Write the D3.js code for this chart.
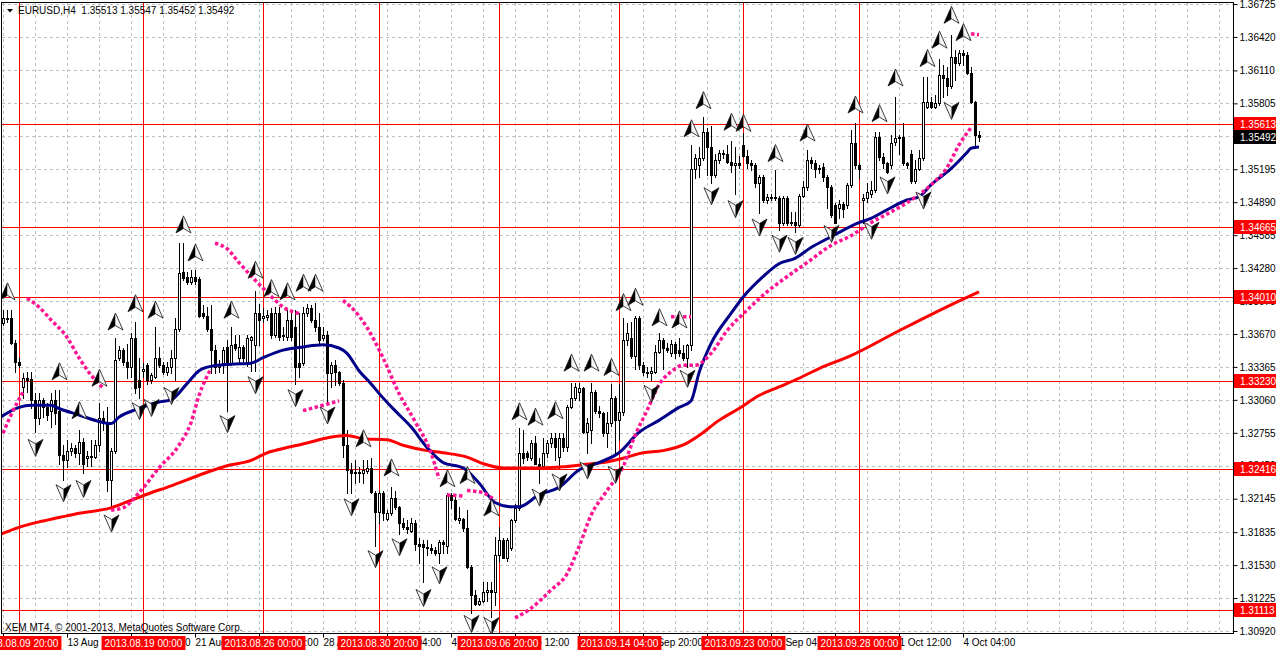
<!DOCTYPE html>
<html>
<head>
<meta charset="utf-8">
<script src="https://cdn.jsdelivr.net/npm/d3@7"></script>
<style>
html, body { margin: 0; padding: 0; background: #fff; }
svg { display: block; font-family: "Liberation Sans", Arial, sans-serif; font-size: 10px; }
</style>
</head>
<body>
<svg id="chart" width="1276" height="652"></svg>
<script>
// EURUSD H4, one value per bar (bar 0 = 2013.08.09 04:00)
const barOpen = [
 1.3377,1.3382,1.3382,1.3359,1.3341,1.3318,1.3326,1.3325,1.3306,1.3289,
 1.3306,1.3299,1.3296,1.3306,1.3296,1.3255,1.3250,1.3259,1.3261,1.3257,
 1.3267,1.3252,1.3254,1.3253,1.3264,1.3289,1.3285,1.3232,1.3259,1.3345,
 1.3352,1.3341,1.3336,1.3363,1.3324,1.3333,1.3338,1.3324,1.3327,1.3345,
 1.3338,1.3332,1.3336,1.3345,1.3372,1.3424,1.3420,1.3415,1.3420,1.3418,
 1.3386,1.3384,1.3372,1.3352,1.3336,1.3340,1.3355,1.3340,1.3358,1.3345,
 1.3355,1.3341,1.3361,1.3357,1.3386,1.3382,1.3383,1.3386,1.3366,1.3386,
 1.3365,1.3364,1.3380,1.3373,1.3340,1.3340,1.3386,1.3391,1.3380,1.3373,
 1.3363,1.3366,1.3331,1.3338,1.3332,1.3322,1.3264,1.3241,1.3238,1.3239,
 1.3238,1.3240,1.3243,1.3220,1.3202,1.3220,1.3196,1.3201,1.3215,1.3207,
 1.3192,1.3188,1.3185,1.3192,1.3173,1.3173,1.3170,1.3169,1.3167,1.3164,
 1.3174,1.3171,1.3218,1.3213,1.3195,1.3196,1.3187,1.3151,1.3125,1.3117,
 1.3120,1.3128,1.3130,1.3128,1.3162,1.3176,1.3160,1.3169,1.3195,1.3206,
 1.3257,1.3257,1.3252,1.3266,1.3247,1.3245,1.3257,1.3266,1.3271,1.3253,
 1.3271,1.3262,1.3299,1.3308,1.3313,1.3317,1.3276,1.3278,1.3313,1.3296,
 1.3294,1.3275,1.3285,1.3308,1.3287,1.3295,1.3361,1.3363,1.3347,1.3382,
 1.3338,1.3332,1.3331,1.3332,1.3350,1.3361,1.3354,1.3349,1.3358,1.3352,
 1.3349,1.3345,1.3357,1.3520,1.3523,1.3530,1.3554,1.3540,1.3514,1.3528,
 1.3535,1.3534,1.3526,1.3523,1.3525,1.3542,1.3532,1.3525,1.3523,1.3507,
 1.3512,1.3491,1.3494,1.3493,1.3493,1.3470,1.3493,1.3470,1.3471,1.3468,
 1.3495,1.3503,1.3528,1.3525,1.3520,1.3522,1.3512,1.3503,1.3486,1.3484,
 1.3487,1.3486,1.3505,1.3544,1.3523,1.3491,1.3493,1.3497,1.3500,1.3549,
 1.3531,1.3525,1.3523,1.3545,1.3548,1.3549,1.3525,1.3534,1.3509,1.3520,
 1.3530,1.3577,1.3582,1.3577,1.3581,1.3607,1.3604,1.3597,1.3623,1.3618,
 1.3627,1.3625,1.3609,1.3582,1.35513
];
const barHigh = [
 1.3389,1.3389,1.3389,1.3361,1.3345,1.3331,1.3332,1.3332,1.3312,1.3312,
 1.3308,1.3303,1.3312,1.3315,1.3315,1.3264,1.3269,1.3266,1.3264,1.3278,
 1.3271,1.3259,1.3269,1.3269,1.3303,1.3296,1.3299,1.3261,1.3363,1.3356,
 1.3354,1.3358,1.3368,1.3378,1.3345,1.3340,1.3340,1.3331,1.3373,1.3355,
 1.3341,1.3341,1.3352,1.3382,1.3451,1.3451,1.3424,1.3426,1.3426,1.3420,
 1.3394,1.3392,1.3394,1.3357,1.3343,1.3355,1.3361,1.3373,1.3366,1.3366,
 1.3357,1.3366,1.3365,1.3407,1.3395,1.3391,1.3389,1.3391,1.3392,1.3392,
 1.3373,1.3389,1.3386,1.3389,1.3386,1.3392,1.3395,1.3394,1.3396,1.3386,
 1.3373,1.3370,1.3341,1.3343,1.3333,1.3324,1.3278,1.3248,1.3250,1.3244,
 1.3250,1.3250,1.3252,1.3222,1.3222,1.3222,1.3204,1.3225,1.3222,1.3208,
 1.3197,1.3195,1.3197,1.3195,1.3178,1.3176,1.3176,1.3173,1.3170,1.3176,
 1.3176,1.3220,1.3220,1.3216,1.3207,1.3197,1.3204,1.3153,1.3130,1.3123,
 1.3137,1.3137,1.3137,1.3179,1.3188,1.3178,1.3178,1.3196,1.3210,1.3280,
 1.3278,1.3259,1.3269,1.3273,1.3252,1.3271,1.3269,1.3275,1.3275,1.3275,
 1.3275,1.3301,1.3322,1.3322,1.3322,1.3318,1.3289,1.3322,1.3315,1.3300,
 1.3295,1.3295,1.3321,1.3310,1.3321,1.3382,1.3377,1.3378,1.3384,1.3384,
 1.3341,1.3336,1.3336,1.3357,1.3368,1.3363,1.3359,1.3361,1.3360,1.3363,
 1.3357,1.3358,1.3542,1.3534,1.3540,1.3568,1.3558,1.3560,1.3534,1.3537,
 1.3537,1.3542,1.3546,1.3540,1.3532,1.3553,1.3537,1.3528,1.3525,1.3514,
 1.3514,1.3497,1.3497,1.3519,1.3495,1.3495,1.3495,1.3480,1.3480,1.3497,
 1.3509,1.3537,1.3531,1.3528,1.3523,1.3525,1.3514,1.3505,1.3488,1.3491,
 1.3489,1.3507,1.3556,1.3562,1.3525,1.3497,1.3507,1.3509,1.3554,1.3554,
 1.3535,1.3526,1.3551,1.3586,1.3551,1.3562,1.3526,1.3537,1.3528,1.3537,
 1.3605,1.3605,1.3586,1.3588,1.3622,1.3616,1.3614,1.3644,1.3630,1.3630,
 1.3630,1.3628,1.3614,1.3583,1.35547
];
const barLow = [
 1.3375,1.3378,1.3358,1.3332,1.3336,1.3308,1.3313,1.3298,1.3276,1.3284,
 1.3290,1.3287,1.3281,1.3284,1.3247,1.3232,1.3244,1.3255,1.3253,1.3247,
 1.3238,1.3245,1.3245,1.3252,1.3259,1.3278,1.3222,1.3207,1.3257,1.3343,
 1.3338,1.3326,1.3327,1.3312,1.3308,1.3327,1.3321,1.3322,1.3326,1.3336,
 1.3330,1.3329,1.3331,1.3324,1.3370,1.3417,1.3413,1.3413,1.3413,1.3383,
 1.3382,1.3370,1.3331,1.3331,1.3332,1.3331,1.3296,1.3338,1.3352,1.3341,
 1.3341,1.3337,1.3333,1.3333,1.3357,1.3378,1.3380,1.3363,1.3364,1.3361,
 1.3361,1.3361,1.3361,1.3321,1.3327,1.3338,1.3384,1.3378,1.3370,1.3359,
 1.3361,1.3304,1.3318,1.3320,1.3320,1.3253,1.3220,1.3220,1.3229,1.3230,
 1.3229,1.3238,1.3220,1.3171,1.3192,1.3195,1.3195,1.3199,1.3205,1.3182,
 1.3186,1.3183,1.3184,1.3167,1.3155,1.3137,1.3162,1.3164,1.3162,1.3155,
 1.3164,1.3164,1.3206,1.3195,1.3192,1.3185,1.3150,1.3109,1.3116,1.3116,
 1.3119,1.3120,1.3105,1.3116,1.3157,1.3160,1.3157,1.3167,1.3193,1.3204,
 1.3248,1.3250,1.3250,1.3247,1.3229,1.3244,1.3253,1.3262,1.3250,1.3243,
 1.3259,1.3259,1.3298,1.3306,1.3306,1.3275,1.3257,1.3266,1.3294,1.3290,
 1.3273,1.3262,1.3282,1.3257,1.3269,1.3292,1.3357,1.3345,1.3335,1.3335,
 1.3329,1.3327,1.3324,1.3331,1.3349,1.3335,1.3350,1.3347,1.3345,1.3347,
 1.3343,1.3336,1.3352,1.3511,1.3512,1.3528,1.3514,1.3507,1.3512,1.3525,
 1.3530,1.3525,1.3517,1.3497,1.3521,1.3531,1.3521,1.3519,1.3503,1.3479,
 1.3489,1.3488,1.3491,1.3491,1.3463,1.3468,1.3468,1.3468,1.3461,1.3466,
 1.3494,1.3500,1.3521,1.3512,1.3516,1.3509,1.3484,1.3475,1.3470,1.3474,
 1.3475,1.3484,1.3503,1.3521,1.3511,1.3470,1.3489,1.3494,1.3498,1.3528,
 1.3521,1.3516,1.3521,1.3542,1.3534,1.3523,1.3521,1.3507,1.3507,1.3519,
 1.3528,1.3576,1.3576,1.3576,1.3579,1.3586,1.3588,1.3595,1.3602,1.3616,
 1.3616,1.3608,1.3581,1.3539,1.35452
];
const barClose = [
 1.3382,1.3381,1.3359,1.3341,1.3338,1.3326,1.3324,1.3306,1.3289,1.3306,
 1.3299,1.3292,1.3306,1.3294,1.3255,1.3250,1.3259,1.3261,1.3257,1.3267,
 1.3247,1.3254,1.3253,1.3264,1.3289,1.3285,1.3232,1.3259,1.3343,1.3352,
 1.3341,1.3336,1.3363,1.3317,1.3318,1.3335,1.3324,1.3329,1.3345,1.3338,
 1.3332,1.3336,1.3345,1.3372,1.3423,1.3419,1.3415,1.3420,1.3416,1.3384,
 1.3384,1.3372,1.3352,1.3336,1.3339,1.3352,1.3338,1.3357,1.3354,1.3355,
 1.3345,1.3363,1.3364,1.3386,1.3380,1.3384,1.3385,1.3366,1.3386,1.3364,
 1.3366,1.3380,1.3364,1.3336,1.3336,1.3386,1.3391,1.3380,1.3373,1.3361,
 1.3366,1.3331,1.3338,1.3332,1.3322,1.3264,1.3241,1.3238,1.3239,1.3238,
 1.3241,1.3243,1.3221,1.3202,1.3220,1.3201,1.3201,1.3215,1.3207,1.3192,
 1.3188,1.3186,1.3192,1.3173,1.3171,1.3170,1.3169,1.3167,1.3164,1.3174,
 1.3173,1.3218,1.3213,1.3196,1.3197,1.3187,1.3151,1.3125,1.3117,1.3120,
 1.3128,1.3130,1.3128,1.3162,1.3176,1.3160,1.3176,1.3195,1.3206,1.3257,
 1.3252,1.3253,1.3266,1.3247,1.3244,1.3257,1.3266,1.3271,1.3262,1.3271,
 1.3262,1.3299,1.3308,1.3318,1.3317,1.3276,1.3285,1.3313,1.3296,1.3294,
 1.3275,1.3285,1.3308,1.3287,1.3295,1.3361,1.3368,1.3347,1.3382,1.3338,
 1.3332,1.3331,1.3333,1.3350,1.3361,1.3354,1.3352,1.3358,1.3349,1.3349,
 1.3345,1.3357,1.3520,1.3530,1.3530,1.3554,1.3540,1.3514,1.3528,1.3535,
 1.3534,1.3526,1.3523,1.3525,1.3523,1.3532,1.3525,1.3523,1.3507,1.3512,
 1.3491,1.3494,1.3493,1.3494,1.3470,1.3493,1.3470,1.3471,1.3468,1.3495,
 1.3503,1.3528,1.3525,1.3520,1.3521,1.3512,1.3503,1.3477,1.3470,1.3487,
 1.3483,1.3505,1.3544,1.3523,1.3520,1.3493,1.3498,1.3500,1.3549,1.3531,
 1.3525,1.3517,1.3544,1.3548,1.3549,1.3525,1.3523,1.3509,1.3520,1.3530,
 1.3582,1.3582,1.3577,1.3581,1.3607,1.3604,1.3597,1.3623,1.3618,1.3627,
 1.3625,1.3609,1.3582,1.3551,1.35492
];

// moving averages: bar index -> price
const blueMaBars = [-1,4,7,12,14,19,24,27,29,34,39,42,46,49,52,57,62,65,70,75,80,84,86,89,92,94,98,102,106,110,
  115,119,123,127,129,134,139,144,149,154,159,164,169,172,174,177,182,185,190,194,198,202,207,209,214,217,221,226,229,232,237,241,242,244];
const blueMaPrices = [1.3289,1.3299,1.3301,1.3301,1.3298,1.3292,1.3286,1.3284,1.3290,1.3298,1.3304,1.3306,1.3321,1.3333,1.3337,1.3339,1.3340,1.3345,1.3352,1.3355,
  1.3357,1.3354,1.3349,1.3333,1.3321,1.3312,1.3296,1.3281,1.3262,1.3248,1.3243,1.3229,1.3211,1.3207,1.3207,1.3218,1.3225,1.3241,1.3248,1.3257,
  1.3276,1.3287,1.3299,1.3305,1.3331,1.3358,1.3386,1.3401,1.3420,1.3432,1.3437,1.3447,1.3457,1.3461,1.3470,1.3474,1.3482,1.3491,1.3494,1.3505,
  1.3520,1.3535,1.3539,1.3540];
const redMaBars = [-1,4,9,14,19,27,32,37,41,46,51,56,62,66,70,76,80,86,90,96,100,106,110,116,120,125,130,135,140,145,
  150,155,160,165,171,174,179,184,189,194,199,204,212,224,237,244];
const redMaPrices = [1.3181,1.3188,1.3193,1.3197,1.3201,1.3206,1.3213,1.3220,1.3225,1.3232,1.3239,1.3245,1.3250,1.3257,1.3261,1.3266,1.3270,1.3273,1.3270,1.3269,
  1.3264,1.3259,1.3257,1.3253,1.3247,1.3243,1.3243,1.3243,1.3244,1.3246,1.3248,1.3252,1.3257,1.3259,1.3266,1.3273,1.3287,1.3298,1.3310,1.3318,
  1.3326,1.3335,1.3347,1.3370,1.3394,1.3406];

// dotted pink trailing indicator, segment by segment: [bar, price]
const sarSegments = [
  [[0,1.3275],[2,1.3292],[5,1.3313]],
  [[6,1.3400],[9,1.3392],[12,1.3380],[16,1.3364],[19,1.3345],[22,1.3329],[25,1.3317]],
  [[27,1.3204],[30,1.3206],[34,1.3220],[39,1.3243],[44,1.3264],[47,1.3285],[49,1.3310],[52,1.3335]],
  [[53,1.3451],[56,1.3446],[59,1.3433],[63,1.3417],[67,1.3402],[70,1.3392],[74,1.3386]],
  [[75,1.3296],[79,1.3300],[84,1.3305]],
  [[85,1.3398],[87,1.3392],[91,1.3373],[95,1.3345],[99,1.3312],[103,1.3286],[107,1.3257],[109,1.3233]],
  [[111,1.3218],[115,1.3217]],
  [[116,1.3222],[120,1.3220],[123,1.3213]],
  [[128,1.3104],[132,1.3113],[137,1.3130],[141,1.3145],[144,1.3170],[147,1.3199],[151,1.3222],[155,1.3244],[158,1.3273],[161,1.3296],
   [164,1.3320],[167,1.3332],[170,1.3338],[173,1.3338],[177,1.3349],[181,1.3370],[186,1.3389],[191,1.3406],[196,1.3420],[201,1.3433],
   [207,1.3449],[212,1.3458],[217,1.3470],[222,1.3480],[227,1.3491],[232,1.3505],[236,1.3521],[239,1.3542],[242,1.3558]],
  [[167,1.3383],[172,1.3383]],
  [[242,1.3645],[244,1.3644]]
];

// fractal arrows
const upFractalBar = [1,14,19,24,28,33,38,45,48,57,63,67,71,75,78,90,97,111,116,122,129,133,138,142,147,152,155,158,164,169,
  172,175,182,185,193,201,213,219,223,231,234,237,240];
const upFractalPrice = [1.3406,1.3332,1.3296,1.3326,1.3378,1.3395,1.3389,1.3468,1.3442,1.3389,1.3426,1.3409,1.3406,1.3414,1.3414,1.3270,1.3243,1.3233,1.3236,1.3206,
  1.3295,1.3290,1.3296,1.3340,1.3340,1.3336,1.3396,1.3401,1.3382,1.3380,1.3557,1.3583,1.3563,1.3562,1.3534,1.3553,1.3579,1.3571,1.3604,1.3622,
  1.3639,1.3662,1.3646];
const downFractalBar = [8,15,20,27,34,37,42,56,63,73,81,87,93,99,105,109,117,122,134,139,146,153,162,171,177,183,189,194,198,207,217,221,230,237];
const downFractalPrice = [1.3262,1.3220,1.3224,1.3192,1.3296,1.3299,1.3310,1.3284,1.3320,1.3308,1.3292,1.3207,1.3159,1.3170,1.3123,1.3144,1.3099,1.3097,1.3216,1.3230,
  1.3241,1.3237,1.3312,1.3326,1.3495,1.3483,1.3466,1.3451,1.3449,1.3460,1.3463,1.3505,1.3491,1.3574];

// horizontal levels and vertical date markers
const levelPrices = [1.35613, 1.34665, 1.34010, 1.33230, 1.32416, 1.31113];
const markerBars = [4, 35, 65, 94, 124, 154, 185, 214];
const markerLabels = ["2013.08.09 20:00","2013.08.19 00:00","2013.08.26 00:00","2013.08.30 20:00",
  "2013.09.06 20:00","2013.09.14 04:00","2013.09.23 00:00","2013.09.28 00:00"];

// axes
const priceTicks = [1.36725,1.36420,1.36110,1.35805,1.35500,1.35195,1.34890,1.34585,1.34280,1.33975,
  1.33670,1.33365,1.33060,1.32755,1.32450,1.32145,1.31835,1.31530,1.31225,1.30920];
const timeTickBars = [0,16,32,48,64,80,96,112,128,144,160,176,192,208,224,240];
const timeTickLabels = ["","13 Aug 20:00","16 Aug 12:00","21 Aug 04:00","23 Aug 20:00","28 Aug 12:00","2 Sep 04:00","4 Sep 20:00",
  "9 Sep 12:00","12 Sep 04:00","16 Sep 20:00","19 Sep 12:00","24 Sep 04:00","26 Sep 20:00","1 Oct 12:00","4 Oct 04:00"];

const FONT = '"Liberation Sans", Arial, sans-serif';
const svg = d3.select('#chart');
const plotRight = 1233, plotBottom = 633;

const x = d3.scaleLinear().domain([0, 244]).range([3, 979]);
const y = d3.scaleLinear().domain([1.30920, 1.36725]).range([631, 4]);
const crisp = v => Math.round(v) + 0.5;
const fmt = d3.format('.5f');

svg.append('defs').append('clipPath').attr('id', 'plotClip')
    .append('rect').attr('x', 2).attr('y', 3).attr('width', plotRight - 2).attr('height', plotBottom - 3);

const plotG = svg.append('g').attr('clip-path', 'url(#plotClip)');

// dashed grid
const grid = plotG.append('g')
    .attr('stroke', '#c0c0c0').attr('stroke-dasharray', '3,3').attr('shape-rendering', 'crispEdges');
grid.selectAll('line.h').data(priceTicks).join('line').attr('class', 'h')
    .attr('x1', 2).attr('x2', plotRight)
    .attr('y1', d => crisp(y(d))).attr('y2', d => crisp(y(d)));
grid.selectAll('line.v').data(d3.range(0, 308, 8)).join('line').attr('class', 'v')
    .attr('x1', d => x(d) + 0.5).attr('x2', d => x(d) + 0.5)
    .attr('y1', 3).attr('y2', plotBottom);

// red level / marker lines
const redLines = plotG.append('g').attr('stroke', '#ff0000').attr('shape-rendering', 'crispEdges');
redLines.selectAll('line.h').data(levelPrices).join('line').attr('class', 'h')
    .attr('x1', 2).attr('x2', plotRight)
    .attr('y1', d => crisp(y(d))).attr('y2', d => crisp(y(d)));
redLines.selectAll('line.v').data(markerBars).join('line').attr('class', 'v')
    .attr('x1', d => x(d) + 0.5).attr('x2', d => x(d) + 0.5)
    .attr('y1', 3).attr('y2', plotBottom);

// candles
const bars = d3.range(barClose.length).map(i => ({
    i, o: barOpen[i], h: barHigh[i], l: barLow[i], c: barClose[i]
}));
const candleG = plotG.append('g').attr('shape-rendering', 'crispEdges');
const candle = candleG.selectAll('g').data(bars).join('g');
candle.append('line')
    .attr('x1', d => x(d.i) + 0.5).attr('x2', d => x(d.i) + 0.5)
    .attr('y1', d => Math.round(y(d.h))).attr('y2', d => Math.round(y(d.l)) + 1)
    .attr('stroke', '#000');
candle.each(function(d) {
    const g = d3.select(this);
    const top = Math.round(y(Math.max(d.o, d.c)));
    const bot = Math.round(y(Math.min(d.o, d.c)));
    const up = d.c >= d.o;
    if (bot - top < 1) {
        g.append('line')
            .attr('x1', x(d.i) - 1).attr('x2', x(d.i) + 2)
            .attr('y1', top + 0.5).attr('y2', top + 0.5)
            .attr('stroke', '#000');
    } else {
        g.append('rect')
            .attr('x', x(d.i) - 0.5).attr('y', top + 0.5)
            .attr('width', 2).attr('height', bot - top)
            .attr('fill', up ? '#fff' : '#000')
            .attr('stroke', '#000');
    }
});

// moving averages
const maLine = d3.line().x(d => x(d[0])).y(d => y(d[1])).curve(d3.curveMonotoneX);
plotG.append('path')
    .attr('d', maLine(d3.zip(redMaBars, redMaPrices)))
    .attr('fill', 'none').attr('stroke', '#ff0000').attr('stroke-width', 3);
plotG.append('path')
    .attr('d', maLine(d3.zip(blueMaBars, blueMaPrices)))
    .attr('fill', 'none').attr('stroke', '#000088').attr('stroke-width', 3);

// dotted pink
plotG.append('g').selectAll('path').data(sarSegments).join('path')
    .attr('d', d => maLine(d))
    .attr('fill', 'none').attr('stroke', '#ff1493').attr('stroke-width', 3.5)
    .attr('stroke-dasharray', '3.5,2.5');

// fractal arrows
const upG = plotG.append('g').selectAll('g').data(d3.zip(upFractalBar, upFractalPrice)).join('g')
    .attr('transform', d => `translate(${x(d[0]) + 0.5},${y(d[1])})`);
upG.append('path').attr('d', 'M0,-9L-7.5,8L0,3.5Z').attr('fill', '#000');
upG.append('path').attr('d', 'M0,-9L0,3.5L7.5,8Z').attr('fill', '#f4f4f4');
upG.append('path').attr('d', 'M0,-9L-7.5,8L0,3.5L7.5,8Z')
    .attr('fill', 'none').attr('stroke', '#111').attr('stroke-width', 0.8).attr('stroke-linejoin', 'round');

const downG = plotG.append('g').selectAll('g').data(d3.zip(downFractalBar, downFractalPrice)).join('g')
    .attr('transform', d => `translate(${x(d[0]) + 0.5},${y(d[1])})`);
downG.append('path').attr('d', 'M0,9L0,-3.5L-7.5,-8Z').attr('fill', '#f4f4f4');
downG.append('path').attr('d', 'M0,9L7.5,-8L0,-3.5Z').attr('fill', '#000');
downG.append('path').attr('d', 'M0,9L-7.5,-8L0,-3.5L7.5,-8Z')
    .attr('fill', 'none').attr('stroke', '#111').attr('stroke-width', 0.8).attr('stroke-linejoin', 'round');

// copyright
svg.append('text').attr('x', 5).attr('y', 631)
    .attr('font-family', FONT).attr('font-size', 10).attr('fill', '#000')
    .text('XEM MT4, \u00a9 2001-2013, MetaQuotes Software Corp.');

// frame
svg.append('rect').attr('x', 1.5).attr('y', 2.5)
    .attr('width', plotRight - 1).attr('height', plotBottom - 2)
    .attr('fill', 'none').attr('stroke', '#000').attr('shape-rendering', 'crispEdges');

// price axis
const yAxis = svg.append('g').attr('transform', `translate(${plotRight + 0.5},0)`)
    .call(d3.axisRight(y).tickValues(priceTicks).tickSize(4).tickFormat(fmt));
yAxis.select('.domain').remove();
yAxis.selectAll('text').attr('font-family', FONT).attr('font-size', 10).attr('x', 6).attr('fill', '#000');
yAxis.selectAll('line').attr('stroke', '#000');

// time axis
const xAxis = svg.append('g').attr('transform', `translate(0,${plotBottom + 0.5})`)
    .call(d3.axisBottom(x).tickValues(timeTickBars).tickSize(4).tickFormat((d, i) => timeTickLabels[i]));
xAxis.select('.domain').remove();
xAxis.selectAll('text').attr('font-family', FONT).attr('font-size', 10)
    .attr('text-anchor', 'start').attr('x', 0).attr('y', 5).attr('fill', '#000');
xAxis.selectAll('line').attr('stroke', '#000');

// level labels on the price axis
const levelTags = svg.append('g').selectAll('g').data(levelPrices).join('g')
    .attr('transform', d => `translate(${plotRight + 1},${Math.round(y(d))})`);
levelTags.append('rect').attr('x', 0).attr('y', -7).attr('width', 43).attr('height', 14).attr('fill', '#ff0000');
levelTags.append('text').attr('x', 6).attr('dy', '0.35em')
    .attr('font-family', FONT).attr('font-size', 10).attr('fill', '#fff').text(d => fmt(d));

// current price tag
const lastPrice = barClose[barClose.length - 1];
const lastTag = svg.append('g').attr('transform', `translate(${plotRight + 1},${Math.round(y(lastPrice))})`);
lastTag.append('rect').attr('x', 0).attr('y', -7).attr('width', 43).attr('height', 14).attr('fill', '#000');
lastTag.append('text').attr('x', 6).attr('dy', '0.35em')
    .attr('font-family', FONT).attr('font-size', 10).attr('fill', '#fff').text(fmt(lastPrice));

// date marker labels under the time axis
const markerTags = svg.append('g').selectAll('g').data(d3.zip(markerBars, markerLabels)).join('g')
    .attr('transform', d => `translate(${x(d[0]) + 0.5},${plotBottom + 3})`);
markerTags.append('rect').attr('fill', '#ff0000');
markerTags.append('text').attr('text-anchor', 'middle').attr('y', 11)
    .attr('font-family', FONT).attr('font-size', 10).attr('fill', '#fff').text(d => d[1]);
markerTags.each(function() {
    const g = d3.select(this);
    const w = g.select('text').node().getComputedTextLength() + 6;
    g.select('rect').attr('x', -w / 2).attr('y', 0).attr('width', w).attr('height', 14);
});

// header
svg.append('path').attr('d', 'M7,9L13,9L10,12.5Z').attr('fill', '#000');
svg.append('text').attr('x', 18).attr('y', 14)
    .attr('font-family', FONT).attr('font-size', 10).attr('fill', '#000')
    .style('white-space', 'pre')
    .text('EURUSD,H4  1.35513 1.35547 1.35452 1.35492');
</script>
</body>
</html>
